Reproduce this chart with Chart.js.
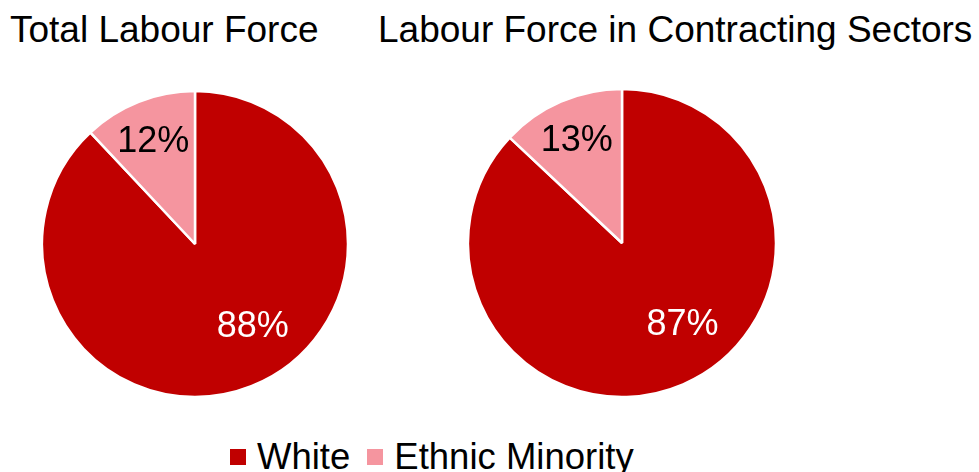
<!DOCTYPE html>
<html>
<head>
<meta charset="utf-8">
<script src="https://cdn.jsdelivr.net/npm/chart.js@4/dist/chart.umd.min.js"></script>
<style>
  html, body { margin: 0; padding: 0; background: #ffffff; }
  #stage { position: relative; width: 979px; height: 472px; overflow: hidden;
           font-family: "Liberation Sans", Arial, sans-serif; color: #000; }
  .title { position: absolute; font-size: 37px; line-height: 37px; white-space: nowrap; }
  .pie { position: absolute; width: 320px; height: 320px; }
  #legend { position: absolute; left: 230px; top: 439px; display: flex; align-items: center;
            font-size: 36.5px; line-height: 36px; white-space: nowrap; }
  .swatch { width: 16px; height: 16px; display: inline-block; margin-right: 11px; }
  .item { display: flex; align-items: center; margin-right: 17px; }
</style>
</head>
<body>
<div id="stage">
  <div class="title" id="title0" style="left:10px; top:11px;"></div>
  <div class="title" id="title1" style="left:378px; top:11px;"></div>
  <div class="pie" style="left:35px; top:84px;"><canvas id="pie0"></canvas></div>
  <div class="pie" style="left:462px; top:83px;"><canvas id="pie1"></canvas></div>
  <div id="legend"></div>
</div>
<script>
// Shares of the labour force by ethnicity (percent)
const categories = ['White', 'Ethnic Minority'];
const totalLabourForce = [88, 12];
const contractingSectors = [87, 13];
const chartTitles = ['Total Labour Force', 'Labour Force in Contracting Sectors'];

const sliceColours = ['#C00000', '#F5959F'];
const labelColours = ['#FFFFFF', '#000000'];
// where each value label sits: fraction along the slice's sweep, fraction of the radius
const labelSweep = [0.455, 0.5];
const labelRadius = [0.645, 0.74];

const FONT = '"Liberation Sans", Arial, sans-serif';

// Percentage labels drawn inside each slice
const sliceLabels = {
  id: 'sliceLabels',
  afterDatasetsDraw(chart) {
    const ctx = chart.ctx;
    const meta = chart.getDatasetMeta(0);
    const values = chart.data.datasets[0].data;
    ctx.save();
    ctx.font = '36px ' + FONT;
    ctx.textAlign = 'center';
    ctx.textBaseline = 'alphabetic';
    meta.data.forEach((arc, i) => {
      const p = arc.getProps(['x', 'y', 'startAngle', 'endAngle', 'outerRadius'], true);
      const a = p.startAngle + (p.endAngle - p.startAngle) * labelSweep[i];
      const r = p.outerRadius * labelRadius[i];
      const x = p.x + Math.cos(a) * r;
      const y = p.y + Math.sin(a) * r;
      ctx.fillStyle = labelColours[i];
      ctx.fillText(values[i] + '%', x, y + 36 * 0.358);
    });
    ctx.restore();
  }
};

function makePie(canvasId, values, radius) {
  return new Chart(document.getElementById(canvasId), {
    type: 'pie',
    data: {
      labels: categories,
      datasets: [{
        data: values,
        backgroundColor: sliceColours,
        borderColor: '#FFFFFF',
        borderWidth: 2.5
      }]
    },
    options: {
      responsive: true,
      maintainAspectRatio: false,
      animation: false,
      radius: radius,
      layout: { padding: 0 },
      plugins: {
        legend: { display: false },
        title: { display: false },
        tooltip: { enabled: false }
      }
    },
    plugins: [sliceLabels]
  });
}

document.getElementById('title0').textContent = chartTitles[0];
document.getElementById('title1').textContent = chartTitles[1];

makePie('pie0', totalLabourForce, 153);
makePie('pie1', contractingSectors, 154);

// Shared legend for both pies
const legend = document.getElementById('legend');
categories.forEach((name, i) => {
  const item = document.createElement('span');
  item.className = 'item';
  const sw = document.createElement('span');
  sw.className = 'swatch';
  sw.style.background = sliceColours[i];
  const txt = document.createElement('span');
  txt.textContent = name;
  item.appendChild(sw);
  item.appendChild(txt);
  legend.appendChild(item);
});
</script>
</body>
</html>
